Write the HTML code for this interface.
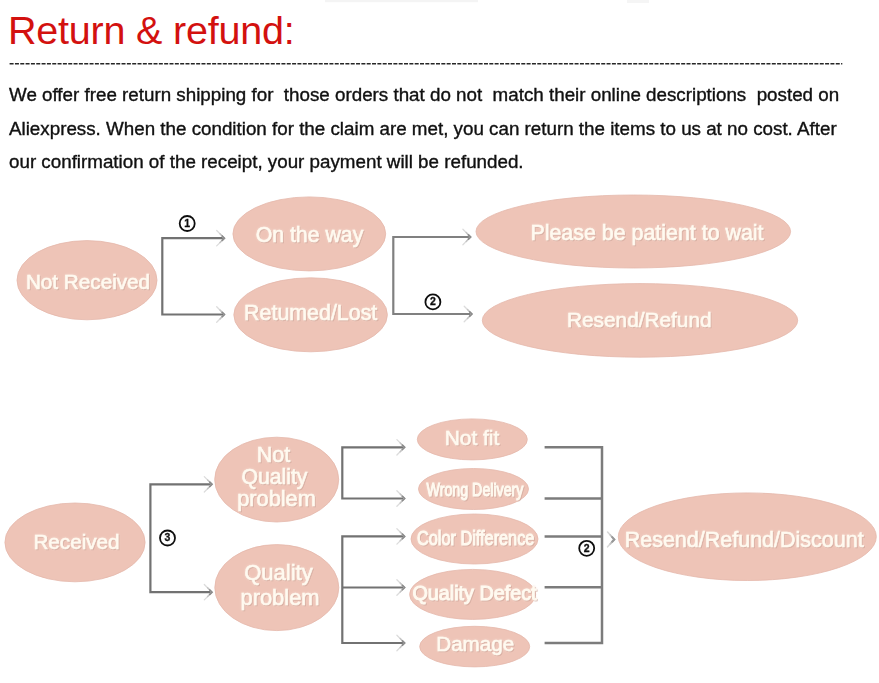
<!DOCTYPE html>
<html>
<head>
<meta charset="utf-8">
<title>Return &amp; refund</title>
<style>
html,body{margin:0;padding:0;background:#fff;}
body{width:879px;height:683px;position:relative;overflow:hidden;font-family:"Liberation Sans",sans-serif;}
.abs{position:absolute;white-space:pre;line-height:1;}
#title{left:7.9px;top:10.9px;font-size:39.5px;letter-spacing:-0.2px;color:#d3110f;}
#dash{left:8.6px;top:55.6px;font-size:16px;color:#222;-webkit-text-stroke:0.5px #222;letter-spacing:0;}
.p{font-size:17.5px;color:#111;-webkit-text-stroke:0.35px #111;left:8.9px;transform-origin:0 0;transform:scaleX(1.073);}
svg{position:absolute;left:0;top:0;}
.t{fill:#fffaf0;stroke:#fffaf0;stroke-width:0.55px;font-family:"Liberation Sans",sans-serif;text-anchor:middle;}
</style>
</head>
<body>
<div class="abs" id="title">Return &amp; refund:</div>
<div class="abs p" id="p1" style="top:87.3px">We offer free return shipping for  those orders that do not  match their online descriptions  posted on</div>
<div class="abs p" id="p2" style="top:120.8px">Aliexpress. When the condition for the claim are met, you can return the items to us at no cost. After</div>
<div class="abs p" id="p3" style="top:153.6px">our confirmation of the receipt, your payment will be refunded.</div>

<svg width="879" height="683" viewBox="0 0 879 683">
<defs>
<filter id="soft" x="-5%" y="-5%" width="110%" height="110%"><feGaussianBlur stdDeviation="0.7"/></filter>
<filter id="soft3" filterUnits="userSpaceOnUse" x="0" y="0" width="879" height="683"><feGaussianBlur stdDeviation="0.3"/></filter>
<filter id="soft2" filterUnits="userSpaceOnUse" x="0" y="0" width="879" height="683"><feGaussianBlur stdDeviation="0.45"/></filter>
<filter id="glow" x="-10%" y="-30%" width="120%" height="160%">
<feGaussianBlur in="SourceAlpha" stdDeviation="1.2" result="b"/>
<feFlood flood-color="#f6dcd2" flood-opacity="0.9"/><feComposite in2="b" operator="in" result="g"/>
<feOffset in="SourceAlpha" dx="0.7" dy="0.8" result="o"/><feGaussianBlur in="o" stdDeviation="0.5" result="ob"/>
<feFlood flood-color="#b98a7c" flood-opacity="0.42"/><feComposite in2="ob" operator="in" result="sh"/>
<feMerge><feMergeNode in="g"/><feMergeNode in="sh"/><feMergeNode in="SourceGraphic"/></feMerge>
</filter>
</defs>

<line x1="9.6" y1="63.7" x2="842.3" y2="63.7" stroke="#262626" stroke-width="1.6" stroke-dasharray="4 1.33"/>
<!-- faint top artifacts -->
<rect x="325" y="-1" width="153" height="3.2" fill="#f4f4f4" filter="url(#soft)"/>
<rect x="627" y="-1" width="22" height="4" fill="#f5f5f5" filter="url(#soft)"/>
<!-- ellipses -->
<g fill="#eec4b7" stroke="#e4b8ab" stroke-width="0.8" filter="url(#soft)">
<ellipse cx="87" cy="280.2" rx="70" ry="39.6"/>
<ellipse cx="309.3" cy="233.9" rx="76.4" ry="37"/>
<ellipse cx="310.6" cy="314.8" rx="76.8" ry="37"/>
<ellipse cx="633.3" cy="231.5" rx="157.3" ry="36.5"/>
<ellipse cx="640" cy="320.4" rx="157.7" ry="36.8"/>

<ellipse cx="75" cy="542.4" rx="70.1" ry="39.4"/>
<ellipse cx="276.7" cy="479.6" rx="62" ry="42.4"/>
<ellipse cx="276.8" cy="587.6" rx="62" ry="43"/>
<ellipse cx="472.3" cy="439.4" rx="55" ry="20.5"/>
<ellipse cx="473.5" cy="489" rx="55" ry="20.5"/>
<ellipse cx="474.5" cy="539" rx="63.5" ry="25"/>
<ellipse cx="472.6" cy="594.4" rx="63" ry="25"/>
<ellipse cx="474.7" cy="646.6" rx="55" ry="20.3"/>
<ellipse cx="747.3" cy="536.7" rx="129" ry="43.8"/>
</g>

<!-- connectors -->
<g fill="none" stroke="#727272" stroke-width="2.2" filter="url(#soft2)">
<path d="M224 238.2H162.3V314.5H224"/>
<path d="M470 237H393.3V314H471.5" stroke="#808080"/>
<path d="M211.6 484.3H150.4V592.2H211.6"/>
<path d="M404.2 447.3H342.3V498.5H404.2"/>
<path d="M404.2 536.4H342.3V643H404.2"/>
<path d="M342.3 587.5H404.2"/>
</g>
<g fill="none" stroke="#7c7c7c" stroke-width="2.5" filter="url(#soft2)">
<path d="M544.6 447.3H602V643H544.6"/>
<path d="M544.6 498.6H602"/>
<path d="M544.6 536.5H603"/>
<path d="M544.6 587.2H602"/>
</g>
<!-- arrow heads -->
<g transform="translate(225 238.2)" fill="none" stroke-linecap="round">
<path d="M-8.3 -7.7L-0.6 0L-8.3 7.7" stroke="#dcdcdc" stroke-width="1.3"/>
<path d="M-5 -4.4L-0.6 0L-5 4.4" stroke="#c4c4c4" stroke-width="1.4"/>
<path d="M-2.8 -2.2L-0.6 0L-2.8 2.2" stroke="#8c8c8c" stroke-width="1.7"/>
</g>
<g transform="translate(225 314.5)" fill="none" stroke-linecap="round">
<path d="M-8.3 -7.7L-0.6 0L-8.3 7.7" stroke="#dcdcdc" stroke-width="1.3"/>
<path d="M-5 -4.4L-0.6 0L-5 4.4" stroke="#c4c4c4" stroke-width="1.4"/>
<path d="M-2.8 -2.2L-0.6 0L-2.8 2.2" stroke="#8c8c8c" stroke-width="1.7"/>
</g>
<g transform="translate(471.2 237)" fill="none" stroke-linecap="round">
<path d="M-8.3 -7.7L-0.6 0L-8.3 7.7" stroke="#dcdcdc" stroke-width="1.3"/>
<path d="M-5 -4.4L-0.6 0L-5 4.4" stroke="#c4c4c4" stroke-width="1.4"/>
<path d="M-2.8 -2.2L-0.6 0L-2.8 2.2" stroke="#8c8c8c" stroke-width="1.7"/>
</g>
<g transform="translate(472.5 314)" fill="none" stroke-linecap="round">
<path d="M-8.3 -7.7L-0.6 0L-8.3 7.7" stroke="#dcdcdc" stroke-width="1.3"/>
<path d="M-5 -4.4L-0.6 0L-5 4.4" stroke="#c4c4c4" stroke-width="1.4"/>
<path d="M-2.8 -2.2L-0.6 0L-2.8 2.2" stroke="#8c8c8c" stroke-width="1.7"/>
</g>
<g transform="translate(212.6 484.3)" fill="none" stroke-linecap="round">
<path d="M-8.3 -7.7L-0.6 0L-8.3 7.7" stroke="#dcdcdc" stroke-width="1.3"/>
<path d="M-5 -4.4L-0.6 0L-5 4.4" stroke="#c4c4c4" stroke-width="1.4"/>
<path d="M-2.8 -2.2L-0.6 0L-2.8 2.2" stroke="#8c8c8c" stroke-width="1.7"/>
</g>
<g transform="translate(212.6 592.2)" fill="none" stroke-linecap="round">
<path d="M-8.3 -7.7L-0.6 0L-8.3 7.7" stroke="#dcdcdc" stroke-width="1.3"/>
<path d="M-5 -4.4L-0.6 0L-5 4.4" stroke="#c4c4c4" stroke-width="1.4"/>
<path d="M-2.8 -2.2L-0.6 0L-2.8 2.2" stroke="#8c8c8c" stroke-width="1.7"/>
</g>
<g transform="translate(405.2 447.3)" fill="none" stroke-linecap="round">
<path d="M-8.3 -7.7L-0.6 0L-8.3 7.7" stroke="#dcdcdc" stroke-width="1.3"/>
<path d="M-5 -4.4L-0.6 0L-5 4.4" stroke="#c4c4c4" stroke-width="1.4"/>
<path d="M-2.8 -2.2L-0.6 0L-2.8 2.2" stroke="#8c8c8c" stroke-width="1.7"/>
</g>
<g transform="translate(405.2 498.5)" fill="none" stroke-linecap="round">
<path d="M-8.3 -7.7L-0.6 0L-8.3 7.7" stroke="#dcdcdc" stroke-width="1.3"/>
<path d="M-5 -4.4L-0.6 0L-5 4.4" stroke="#c4c4c4" stroke-width="1.4"/>
<path d="M-2.8 -2.2L-0.6 0L-2.8 2.2" stroke="#8c8c8c" stroke-width="1.7"/>
</g>
<g transform="translate(405.2 536.4)" fill="none" stroke-linecap="round">
<path d="M-8.3 -7.7L-0.6 0L-8.3 7.7" stroke="#dcdcdc" stroke-width="1.3"/>
<path d="M-5 -4.4L-0.6 0L-5 4.4" stroke="#c4c4c4" stroke-width="1.4"/>
<path d="M-2.8 -2.2L-0.6 0L-2.8 2.2" stroke="#8c8c8c" stroke-width="1.7"/>
</g>
<g transform="translate(405.2 587.5)" fill="none" stroke-linecap="round">
<path d="M-8.3 -7.7L-0.6 0L-8.3 7.7" stroke="#dcdcdc" stroke-width="1.3"/>
<path d="M-5 -4.4L-0.6 0L-5 4.4" stroke="#c4c4c4" stroke-width="1.4"/>
<path d="M-2.8 -2.2L-0.6 0L-2.8 2.2" stroke="#8c8c8c" stroke-width="1.7"/>
</g>
<g transform="translate(405.2 643)" fill="none" stroke-linecap="round">
<path d="M-8.3 -7.7L-0.6 0L-8.3 7.7" stroke="#dcdcdc" stroke-width="1.3"/>
<path d="M-5 -4.4L-0.6 0L-5 4.4" stroke="#c4c4c4" stroke-width="1.4"/>
<path d="M-2.8 -2.2L-0.6 0L-2.8 2.2" stroke="#8c8c8c" stroke-width="1.7"/>
</g>
<g fill="none" stroke-linecap="round" filter="url(#soft2)">
<path d="M607.6 532L614.3 539.4L607.6 546.8" stroke-width="1.6" stroke="#d8d8d8"/>
<path d="M610.3 535L614.3 539.4L610.3 543.8" stroke-width="1.8" stroke="#c4c4c4"/>
<path d="M612.2 537.1L614.3 539.4L612.2 541.7" stroke-width="2.1" stroke="#989898"/>
</g>

<!-- numbered circles -->
<g fill="#fff" stroke="#111" stroke-width="1.8" filter="url(#soft3)">
<circle cx="187.2" cy="223.5" r="7.5"/>
<circle cx="432.9" cy="301.9" r="7.5"/>
<circle cx="167.5" cy="538" r="7.5"/>
<circle cx="586.7" cy="548.3" r="7.5"/>
</g>
<g font-family="Liberation Sans, sans-serif" font-size="10.5" font-weight="bold" fill="#111" stroke="#111" stroke-width="0.3" text-anchor="middle" filter="url(#soft3)">
<text x="187.2" y="226.7">1</text>
<text x="432.9" y="305">2</text>
<text x="167.5" y="541.2">3</text>
<text x="586.7" y="551.5">2</text>
</g>

<!-- labels -->
<g class="t" filter="url(#glow)">
<text x="88" y="288.9" font-size="20.7">Not Received</text>
<text x="309.5" y="242" font-size="21.3">On the way</text>
<text x="310.7" y="320.2" font-size="21.4">Retumed/Lost</text>
<text x="647" y="239.8" font-size="21.4">Please be patient to wait</text>
<text x="639.3" y="327.4" font-size="20.8">Resend/Refund</text>

<text x="76.5" y="549.3" font-size="20.7">Received</text>
<text x="273.5" y="461.5" font-size="21.5">Not</text>
<text x="274.5" y="484" font-size="21.2">Quality</text>
<text x="276.5" y="505.6" font-size="21.8">problem</text>
<text x="278.5" y="580" font-size="22">Quality</text>
<text x="280" y="604.5" font-size="21.9">problem</text>
<text x="472" y="445.1" font-size="20.9">Not fit</text>
<text x="475.2" y="651.3" font-size="20.6">Damage</text>
<text x="474.5" y="600.4" font-size="19.8" stroke-width="0.9">Quality Defect</text>
<text x="744.2" y="547.1" font-size="21.5">Resend/Refund/Discount</text>
</g>
<g class="t" filter="url(#glow)">
<text transform="translate(475 495.5) scale(0.79 1)" font-size="18" stroke-width="1">Wrong Delivery</text>
<text transform="translate(475.7 544.8) scale(0.795 1)" font-size="20.5" stroke-width="1">Color Difference</text>
</g>
</svg>
</body>
</html>
